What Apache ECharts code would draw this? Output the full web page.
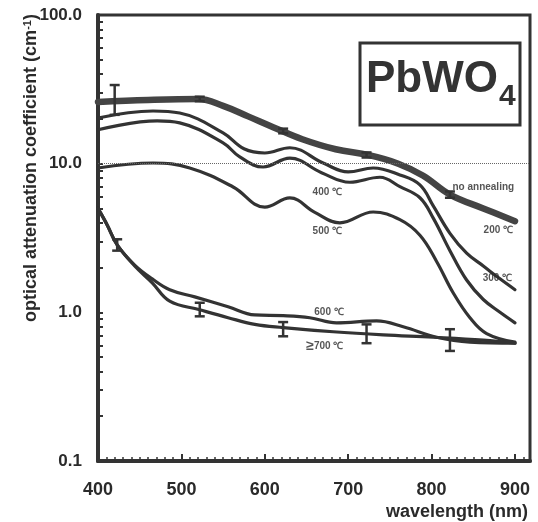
<!DOCTYPE html>
<html><head><meta charset="utf-8">
<script src="https://cdn.jsdelivr.net/npm/echarts@6/dist/echarts.min.js"></script>
<style>html,body{margin:0;padding:0;background:#fff}#c{width:538px;height:522px}</style>
</head><body><div id="c"></div>
<script>
// ---- data (wavelength nm, attenuation cm^-1) ----
const wlNoAnneal = [400, 460, 520, 550, 580, 610, 645, 685, 725, 760, 790, 822, 862, 900];
const vNoAnneal  = [26.0, 26.8, 27.2, 24.5, 20.8, 17.6, 14.6, 12.5, 11.4, 10.0, 8.3, 6.2, 5.0, 4.1];

const wl300 = [400, 466, 498, 550, 575, 600, 630, 670, 700, 730, 762, 786, 802, 822, 842, 862, 882, 900];
const v300  = [20.3, 22.6, 21.9, 16.1, 12.6, 11.8, 12.8, 10.1, 8.8, 9.35, 8.4, 7.2, 5.2, 3.4, 2.5, 2.05, 1.68, 1.42];

const wl400 = [400, 471, 498, 550, 570, 598, 630, 668, 702, 738, 762, 786, 802, 822, 842, 862, 882, 900];
const v400  = [16.9, 19.4, 18.8, 13.8, 11.1, 9.5, 10.9, 8.7, 7.5, 8.1, 7.0, 5.9, 4.3, 2.6, 1.65, 1.22, 1.0, 0.85];

const wl500 = [400, 466, 510, 562, 600, 630, 660, 690, 730, 762, 786, 806, 826, 846, 866, 900];
const v500  = [9.35, 10.1, 9.35, 6.97, 5.1, 5.88, 4.7, 4.0, 4.73, 4.2, 3.3, 2.2, 1.35, 0.92, 0.72, 0.63];

const wl600 = [400, 411, 423, 444, 465, 486, 516, 556, 588, 622, 654, 686, 734, 766, 806, 846, 900];
const v600  = [5.0, 3.87, 2.84, 2.08, 1.68, 1.42, 1.27, 1.09, 0.96, 0.95, 0.92, 0.85, 0.875, 0.80, 0.68, 0.63, 0.62];

const wl700 = [400, 411, 423, 444, 465, 486, 522, 556, 588, 622, 682, 742, 802, 862, 900];
const v700  = [5.0, 3.87, 2.84, 2.05, 1.58, 1.19, 1.04, 0.92, 0.83, 0.79, 0.74, 0.705, 0.68, 0.65, 0.62];

// error bars
const errTopX  = [420, 522, 622, 722, 822];
const errTopLo = [21.3, 26.3, 16.0, 11.0, 5.9];
const errTopHi = [33.8, 28.2, 17.2, 11.9, 6.5];
const errBotX  = [423, 522, 622, 722, 822];
const errBotLo = [2.6, 0.94, 0.69, 0.62, 0.55];
const errBotHi = [3.1, 1.16, 0.86, 0.83, 0.77];

// ticks / labels
const xLabelValues = [400, 500, 600, 700, 800, 900];
const xMinorTicks = [400,410,420,430,440,450,460,470,480,490,500,510,520,530,540,550,560,570,580,590,600,610,620,630,640,650,660,670,680,690,700,710,720,730,740,750,760,770,780,790,800,810,820,830,840,850,860,870,880,890,900,910];
const yTickValues = [0.1,0.2,0.3,0.4,0.5,0.6,0.7,0.8,0.9,1,2,3,4,5,6,7,8,9,10,20,30,40,50,60,70,80,90,100];

// curve annotations (text + anchor in data space)
const annText = ['no annealing', '200 ℃', '300 ℃', '400 ℃', '500 ℃', '600 ℃', '{b|≥}700 ℃'];
const annWl   = [862, 880, 879, 675, 675, 677, 672];
const annV    = [6.9, 3.58, 1.70, 6.46, 3.52, 1.0, 0.594];

const zip = (a, b) => a.map((x, i) => [x, b[i]]);
const FONT = '"Liberation Sans", Arial, Helvetica, sans-serif';
const INK = '#2a2a2a';

function lineSeries(name, wl, v, width, color) {
  return { name, type: 'line', data: zip(wl, v), smooth: 0.4, symbol: 'none',
    lineStyle: { width, color, cap: 'round', join: 'round' }, z: 3, silent: true };
}
function renderErr(params, api) {
  const x = api.value(0), lo = api.value(1), hi = api.value(2);
  const a = api.coord([x, lo]), b = api.coord([x, hi]);
  const w = 5;
  const st = { stroke: '#333', lineWidth: 2.5 };
  return { type: 'group', children: [
    { type: 'line', shape: { x1: a[0], y1: a[1], x2: b[0], y2: b[1] }, style: st },
    { type: 'line', shape: { x1: a[0] - w, y1: a[1], x2: a[0] + w, y2: a[1] }, style: st },
    { type: 'line', shape: { x1: b[0] - w, y1: b[1], x2: b[0] + w, y2: b[1] }, style: st }
  ]};
}

const chart = echarts.init(document.getElementById('c'), null, { renderer: 'canvas' });
const noAnn = lineSeries('no annealing / 200 ℃', wlNoAnneal, vNoAnneal, 6.5, '#444');
noAnn.z = 4;
noAnn.markLine = { silent: true, symbol: ['none', 'none'], label: { show: false },
  lineStyle: { type: 'dotted', color: '#666', width: 1 }, data: [{ yAxis: 10 }] };

chart.setOption({
  animation: false,
  backgroundColor: '#fff',
  grid: { left: 98, right: 8, top: 15, bottom: 61, show: true, borderColor: '#333', borderWidth: 3 },
  xAxis: [{
    type: 'value', min: 400, max: 918, interval: 100,
    axisLine: { show: true, onZero: false, lineStyle: { color: '#333', width: 4 } },
    axisTick: { show: true, inside: true, length: 4, customValues: xMinorTicks, lineStyle: { color: '#333', width: 1.5 } },
    axisLabel: { customValues: xLabelValues, margin: 20, fontSize: 18, fontWeight: 'bold', color: INK, fontFamily: FONT },
    splitLine: { show: false }
  }, {
    type: 'value', min: 400, max: 918, position: 'bottom',
    axisLine: { show: false },
    axisTick: { show: true, inside: true, length: 7, customValues: xLabelValues, lineStyle: { color: '#333', width: 2 } },
    axisLabel: { show: false }, splitLine: { show: false }
  }],
  yAxis: {
    type: 'log', logBase: 10, min: 0.1, max: 100,
    axisLine: { show: true, onZero: false, lineStyle: { color: '#333', width: 4 } },
    axisTick: { show: true, inside: true, length: 5, customValues: yTickValues, lineStyle: { color: '#333', width: 2 } },
    axisLabel: { formatter: v => Number(v).toFixed(1), margin: 16, fontSize: 17, fontWeight: 'bold', color: INK, fontFamily: FONT },
    splitLine: { show: false }
  },
  series: [
    noAnn,
    lineSeries('300 ℃', wl300, v300, 3.2, '#333'),
    lineSeries('400 ℃', wl400, v400, 3.2, '#333'),
    lineSeries('500 ℃', wl500, v500, 3.2, '#333'),
    lineSeries('600 ℃', wl600, v600, 3.2, '#333'),
    lineSeries('≥700 ℃', wl700, v700, 3.2, '#333'),
    { type: 'custom', renderItem: renderErr, encode: { x: 0, y: [1, 2] }, z: 5, silent: true,
      data: errTopX.map((x, i) => [x, errTopLo[i], errTopHi[i]]) },
    { type: 'custom', renderItem: renderErr, encode: { x: 0, y: [1, 2] }, z: 5, silent: true,
      data: errBotX.map((x, i) => [x, errBotLo[i], errBotHi[i]]) },
    { type: 'scatter', symbolSize: 1, itemStyle: { color: 'transparent' }, z: 6, silent: true,
      data: annText.map((t, i) => ({ name: t, value: [annWl[i], annV[i]] })),
      label: { show: true, position: 'inside', formatter: p => p.name, fontSize: 10, fontWeight: 'bold',
        color: INK, fontFamily: FONT, rich: { b: { fontSize: 14, fontWeight: 'bold', color: INK, fontFamily: FONT } } } }
  ],
  graphic: [
    { type: 'rect', shape: { x: 360, y: 43, width: 160, height: 82 }, style: { fill: '#fff', stroke: '#333', lineWidth: 3 }, z: 10 },
    { type: 'text', x: 366, y: 80, z: 11, style: { text: 'PbWO', fontSize: 44, fontWeight: 'bold', fontFamily: FONT, fill: '#333', align: 'left', verticalAlign: 'middle' } },
    { type: 'text', x: 499, y: 97, z: 11, style: { text: '4', fontSize: 30, fontWeight: 'bold', fontFamily: FONT, fill: '#333', align: 'left', verticalAlign: 'middle' } },
    { type: 'text', x: 31, y: 168, rotation: Math.PI / 2, z: 11, style: {
        text: 'optical attenuation coefficient (cm{s|-1})', fontSize: 18, fontWeight: 'bold', fontFamily: FONT, fill: INK,
        align: 'center', verticalAlign: 'middle',
        rich: { s: { fontSize: 11, fontWeight: 'bold', fontFamily: FONT, fill: INK, verticalAlign: 'top' } } } },
    { type: 'text', x: 528, y: 512, z: 11, style: { text: 'wavelength (nm)', fontSize: 18, fontWeight: 'bold', fontFamily: FONT, fill: INK, align: 'right', verticalAlign: 'middle' } }
  ]
});
</script></body></html>
